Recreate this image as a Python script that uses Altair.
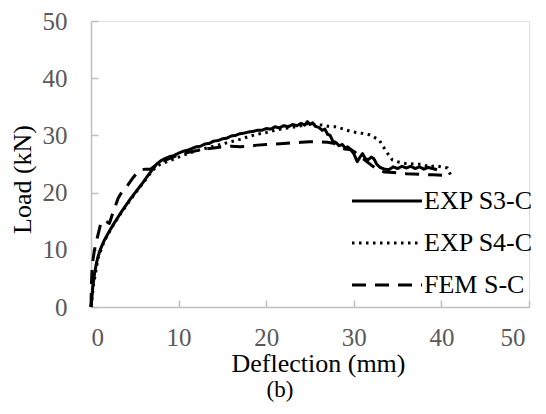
import altair as alt
import pandas as pd

# ---- data ----
s3_x = [0, 0.1, 0.2, 0.4, 0.6, 0.8, 1.1, 1.5, 2.0, 2.5, 3.0, 3.5, 4.0, 4.5, 5.0, 5.5, 6.0, 6.5, 7.0, 7.5,
        8.0, 8.5, 9.0, 9.5, 10.0, 10.5, 11.0, 11.5, 12.0, 12.5, 13.0, 13.5, 14.0, 14.5, 15.0, 15.5, 16.0,
        16.5, 17.0, 17.5, 18.0, 18.5, 19.0, 19.5, 20.0, 20.5, 21.0, 21.5, 22.0, 22.5, 23.0, 23.5, 24.0,
        24.4, 24.7, 25.0, 25.3, 25.6, 26.0, 26.4, 26.7, 27.0, 27.3, 27.6, 28.0, 28.3, 28.7, 29.0, 29.3,
        29.6, 30.0, 30.4, 30.7, 31.0, 31.3, 31.6, 32.0, 32.3, 32.6, 33.0, 33.5, 34.0, 34.5, 35.0, 35.5,
        36.0, 36.5, 37.0, 37.5, 38.0, 38.5, 39.0, 39.5]
s3_y = [0, 1.5, 3.5, 5.8, 7.5, 8.8, 10.2, 11.6, 13.0, 14.3, 15.5, 16.7, 17.8, 18.9, 19.9, 20.9, 21.9, 23.0, 24.0, 25.0,
        25.6, 26.0, 26.3, 26.5, 26.9, 27.2, 27.4, 27.7, 28.0, 28.1, 28.5, 28.6, 29.0, 29.1, 29.4, 29.5, 29.9,
        30.0, 30.3, 30.4, 30.6, 30.7, 30.9, 30.9, 31.2, 31.1, 31.5, 31.3, 31.7, 31.5, 31.9, 31.7, 32.1,
        31.8, 32.4, 31.9, 32.2, 31.6, 31.4, 30.9, 31.1, 30.2, 30.0, 29.0, 28.7, 28.2, 28.4, 27.8, 28.0,
        27.6, 26.8, 25.4, 26.2, 26.8, 26.0, 25.7, 26.2, 25.9, 25.0, 24.4, 24.1, 24.0, 24.5, 24.2, 24.6,
        24.3, 24.6, 24.2, 24.5, 24.1, 24.4, 24.2, 24.0]

s4_x = [0, 0.3, 0.8, 1.5, 2.5, 3.5, 5.0, 6.0, 7.0, 7.5, 8.0, 8.5, 9.0, 10.0, 11.0, 12.0, 13.0, 14.0, 15.0,
        16.0, 17.0, 18.0, 19.0, 20.0, 21.0, 22.0, 23.0, 24.0, 25.0, 25.5, 26.4, 27.0, 28.0, 29.0, 29.9,
        30.8, 31.8, 32.9, 33.3, 33.7, 34.4, 35.0, 35.9, 37.0, 38.0, 38.6, 39.3, 40.0, 40.7, 41.1]
s4_y = [0, 4.0, 8.5, 11.5, 14.2, 16.6, 19.8, 21.8, 23.8, 24.6, 25.0, 25.3, 25.6, 26.2, 26.8, 27.3, 27.7, 28.1, 28.5,
        28.9, 29.3, 29.8, 30.2, 30.5, 30.9, 31.2, 31.4, 31.7, 32.2, 31.9, 31.8, 31.6, 31.5, 31.0, 30.6,
        30.4, 30.1, 29.2, 28.2, 27.2, 25.7, 25.4, 25.1, 25.0, 24.9, 24.5, 24.7, 24.5, 24.3, 22.9]

fem_x = [0, 0.05, 0.15, 0.4, 0.7, 1.1, 1.4, 1.8, 2.1, 2.5, 3.1, 3.6, 4.2, 4.8, 5.5, 6.2, 6.8, 7.5, 8.2, 9.0,
         10.0, 11.0, 12.0, 13.0, 14.0, 15.0, 16.0, 17.0, 18.0, 19.0, 20.0, 21.0, 22.0, 23.0, 24.0, 25.0,
         26.0, 27.0, 27.8, 28.3, 29.0, 29.7, 30.2, 31.0, 32.0, 32.8, 33.5, 34.5, 36.0, 37.5, 39.0, 40.3]
fem_y = [0, 4.0, 7.5, 10.0, 12.0, 14.5, 15.2, 14.9, 14.6, 16.5, 19.0, 20.3, 21.3, 22.6, 23.9, 24.1, 24.1, 24.9, 25.5, 26.0,
         26.6, 27.0, 27.3, 27.6, 27.8, 28.0, 28.1, 28.0, 28.1, 28.3, 28.4, 28.5, 28.6, 28.7, 28.8, 28.9,
         28.9, 28.8, 28.6, 28.0, 27.6, 27.5, 27.0, 26.0, 24.8, 24.0, 23.6, 23.5, 23.3, 23.2, 23.1, 23.0]

series_names = ["EXP S3-C", "EXP S4-C", "FEM S-C"]
tick_values = [0, 10, 20, 30, 40, 50]

rows = []
for name, xs, ys in zip(series_names, [s3_x, s4_x, fem_x], [s3_y, s4_y, fem_y]):
    for i, (a, b) in enumerate(zip(xs, ys)):
        rows.append({"series": name, "x": a, "y": b, "i": i})
df = pd.DataFrame(rows)

FONT = "Liberation Serif"
AXC = "#BFBFBF"
LBL = "#595959"

x_scale = alt.Scale(domain=[0, 50], nice=False, zero=False)
y_scale = alt.Scale(domain=[0, 50], nice=False, zero=False)

x_axis_main = alt.Axis(orient="bottom", values=tick_values, grid=False, ticks=False, tickSize=0,
                       domainColor=AXC, domainWidth=1.5, labelFont=FONT, labelFontSize=25,
                       labelColor=LBL, labelPadding=18,
                       labelOffset={"condition": {"test": "datum.value == 50", "value": -4}, "value": 0},
                       title="Deflection (mm)", titleFont=FONT,
                       titleFontSize=26, titleFontWeight="normal", titleColor="black",
                       titleX=227, titleY=43, titleAlign="center", titleBaseline="top")
y_axis_main = alt.Axis(orient="left", values=tick_values, grid=False, ticks=False, tickSize=0,
                       domainColor=AXC, domainWidth=1.5, labelFont=FONT, labelFontSize=25,
                       labelColor=LBL, labelPadding=24, title="Load (kN)", titleFont=FONT,
                       titleFontSize=26, titleFontWeight="normal", titleColor="black",
                       titleAngle=270, titleX=-61, titleY=158, titleAlign="center",
                       titleBaseline="alphabetic")
x_axis_ticks = alt.Axis(orient="bottom", values=tick_values, grid=False, domain=False, labels=False,
                        ticks=True, tickSize=7, tickColor=AXC, tickWidth=1.5, offset=-7, title=None)
y_axis_ticks = alt.Axis(orient="left", values=tick_values, grid=False, domain=False, labels=False,
                        ticks=True, tickSize=7, tickColor=AXC, tickWidth=1.5, offset=-7, title=None)

dash_scale = alt.Scale(domain=series_names, range=[[1, 0], [2.5, 4.5], [14, 9]])

lines = alt.Chart(df).mark_line(color="black", strokeWidth=3, strokeJoin="round").encode(
    x=alt.X("x:Q", scale=x_scale, axis=x_axis_main),
    y=alt.Y("y:Q", scale=y_scale, axis=y_axis_main),
    strokeDash=alt.StrokeDash("series:N", scale=dash_scale, sort=series_names,
                              legend=alt.Legend(title=None, orient="none", legendX=283, legendY=167,
                                                symbolType="M-5,0H5", symbolSize=196,
                                                symbolStrokeColor="black", symbolStrokeWidth=3,
                                                symbolFillColor="transparent",
                                                labelFont=FONT, labelFontSize=26, labelColor="black",
                                                labelOffset=24, rowPadding=16, padding=0,
                                                labelLimit=300)),
    order="i:Q",
)

ticks_layer = alt.Chart(df).mark_line(opacity=0).encode(
    x=alt.X("x:Q", scale=x_scale, axis=x_axis_ticks),
    y=alt.Y("y:Q", scale=y_scale, axis=y_axis_ticks),
    detail="series:N",
    order="i:Q",
)

chart = alt.layer(lines, ticks_layer).resolve_axis(x="independent", y="independent").properties(
    width=438, height=286,
    autosize=alt.AutoSizeParams(type="none"),
    padding={"left": 83, "top": 13, "right": 9, "bottom": 95},
    title=alt.TitleParams("(b)", orient="bottom", anchor="middle", font=FONT, fontSize=23,
                          fontWeight="normal", color="black", offset=3, dx=-30),
).configure_view(stroke=None).configure(background="white")

chart.save("out.html", embed_options={"renderer": "svg", "actions": False})
